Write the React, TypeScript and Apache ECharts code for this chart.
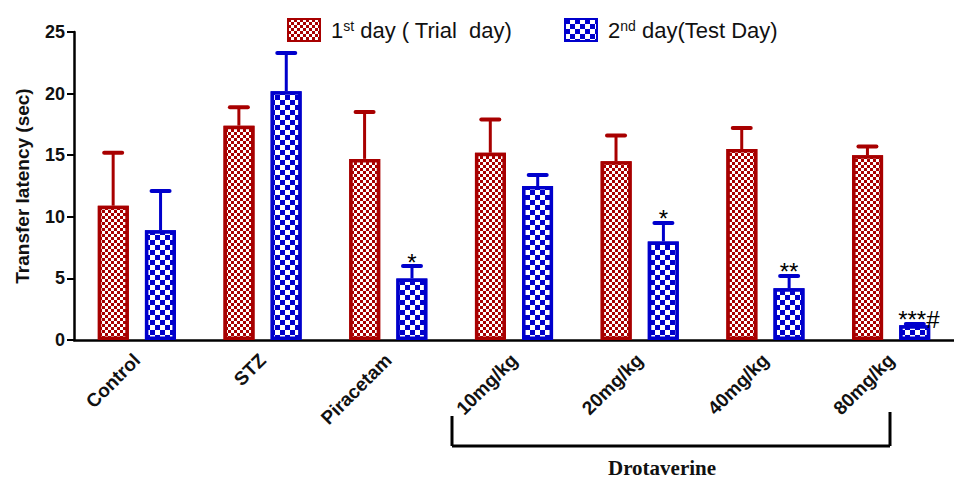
import React, { useEffect, useRef } from "react";
import * as echarts from "echarts";

const categories = ["Control", "STZ", "Piracetam", "10mg/kg", "20mg/kg", "40mg/kg", "80mg/kg"];
const day1Values = [10.9, 17.4, 14.7, 15.2, 14.5, 15.5, 15.0];
const day1Sem = [4.3, 1.5, 3.8, 2.7, 2.1, 1.7, 0.7];
const day2Values = [8.9, 20.2, 5.0, 12.5, 8.0, 4.2, 1.2];
const day2Sem = [3.2, 3.1, 1.0, 0.9, 1.5, 1.0, 0.1];
const day2Sig = ["", "", "*", "", "*", "**", "***#"];
const yTicks = { min: 0, max: 25, interval: 5 };

const RED = "#A80000";
const BLUE = "#0000CC";
const FONT = "'Liberation Sans', Arial, sans-serif";

function errorSeries(name: string, values: number[], sem: number[], sig: string[], offset: number, color: string) {
  return {
    name,
    type: "custom",
    z: 5,
    data: values.map((v, i) => [i, v, sem[i]]),
    encode: { x: 0, y: 1 },
    renderItem: (params: any, api: any) => {
      const cat = api.value(0);
      const v = api.value(1);
      const e = api.value(2);
      const p0 = api.coord([cat, v]);
      const p1 = api.coord([cat, v + e]);
      const x = p0[0] + offset;
      const children: any[] = [
        { type: "line", shape: { x1: x, y1: p0[1], x2: x, y2: p1[1] }, style: { stroke: color, lineWidth: 3 } },
        { type: "line", shape: { x1: x - 9, y1: p1[1], x2: x + 9, y2: p1[1] }, style: { stroke: color, lineWidth: 4, lineCap: "round" } },
      ];
      const lab = sig[params.dataIndex];
      if (lab) {
        children.push({
          type: "text",
          x: x + (lab.length > 2 ? 4 : 0),
          y: p1[1] + 8,
          style: { text: lab, fill: "#000", fontSize: 24, fontFamily: FONT, textAlign: "center", textVerticalAlign: "bottom" },
        });
      }
      return { type: "group", children };
    },
  };
}

export default function App() {
  const ref = useRef<HTMLDivElement>(null);
  useEffect(() => {
    document.body.style.margin = "0";
    const chart = echarts.init(ref.current!, null, { renderer: "svg" });
    const legendText = {
      fontSize: 22,
      fontFamily: FONT,
      color: "#111",
      padding: [0, 0, 0, 6],
      rich: { s: { fontSize: 14, fontFamily: FONT, verticalAlign: "top", lineHeight: 12, color: "#111" } },
    };
    chart.setOption({
      animation: false,
      backgroundColor: "#fff",
      grid: { left: 74, right: -8, top: 32, bottom: 139, containLabel: false },
      legend: [
        {
          data: ["day1"], left: 282, top: 13, icon: "rect", itemWidth: 32, itemHeight: 22,
          formatter: () => "1{s|st} day ( Trial  day)", textStyle: legendText,
        },
        {
          data: ["day2"], left: 559, top: 13, icon: "rect", itemWidth: 32, itemHeight: 22,
          formatter: () => "2{s|nd} day(Test Day)", textStyle: legendText,
        },
      ],
      xAxis: {
        type: "category",
        data: categories,
        axisLine: { lineStyle: { color: "#000", width: 2.5 } },
        axisTick: { alignWithLabel: true, length: 6, lineStyle: { color: "#000", width: 2 } },
        axisLabel: { rotate: 45, margin: 17, fontSize: 19, fontWeight: "bold", fontFamily: FONT, color: "#111" },
      },
      yAxis: {
        type: "value",
        min: yTicks.min,
        max: yTicks.max,
        interval: yTicks.interval,
        name: "Transfer latency (sec)",
        nameLocation: "middle",
        nameGap: 42,
        nameTextStyle: { fontSize: 19, fontWeight: "bold", fontFamily: FONT, color: "#111" },
        axisLine: { show: true, lineStyle: { color: "#000", width: 2.5 } },
        axisTick: { show: true, length: 7, lineStyle: { color: "#000", width: 2 } },
        axisLabel: { margin: 9, fontSize: 18, fontWeight: "bold", fontFamily: FONT, color: "#111" },
        splitLine: { show: false },
      },
      series: [
        {
          name: "day1",
          type: "bar",
          data: day1Values,
          barWidth: 31,
          barGap: "52%",
          itemStyle: {
            color: RED,
            borderColor: RED,
            borderWidth: 3.5,
            decal: { symbol: "rect", symbolSize: 1, color: "#fff", dashArrayX: [[2.5, 2.5], [0, 2.5, 2.5, 0]], dashArrayY: [2.5, 0], rotation: 0 },
          },
        },
        {
          name: "day2",
          type: "bar",
          data: day2Values,
          barWidth: 31,
          itemStyle: {
            color: BLUE,
            borderColor: BLUE,
            borderWidth: 3.5,
            decal: { symbol: "rect", symbolSize: 1, color: "#fff", dashArrayX: [[5, 5], [0, 5, 5, 0]], dashArrayY: [5, 0], rotation: 0 },
          },
        },
        errorSeries("err1", day1Values, day1Sem, ["", "", "", "", "", "", ""], -23.7, RED),
        errorSeries("err2", day2Values, day2Sem, day2Sig, 23.7, BLUE),
      ],
      graphic: [
        { type: "line", shape: { x1: 452, y1: 416, x2: 452, y2: 446 }, style: { stroke: "#000", lineWidth: 3 } },
        { type: "line", shape: { x1: 452, y1: 446, x2: 890, y2: 446 }, style: { stroke: "#000", lineWidth: 3 } },
        { type: "line", shape: { x1: 890, y1: 412, x2: 890, y2: 446 }, style: { stroke: "#000", lineWidth: 3 } },
        {
          type: "text", x: 662, y: 468,
          style: { text: "Drotaverine", fontSize: 21, fontWeight: "bold", fontFamily: "'Liberation Serif', 'Times New Roman', serif", fill: "#111", textAlign: "center", textVerticalAlign: "middle" },
        },
      ],
    });
    return () => chart.dispose();
  }, []);
  return <div ref={ref} style={{ width: 954, height: 479 }} />;
}
